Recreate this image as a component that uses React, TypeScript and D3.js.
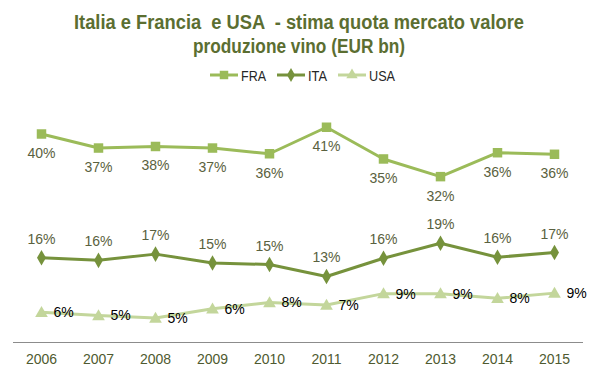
import React, { useEffect, useRef } from "react";
import * as d3 from "d3";

const years = ["2006", "2007", "2008", "2009", "2010", "2011", "2012", "2013", "2014", "2015"];
const fra = [40.0, 37.3, 37.6, 37.3, 36.2, 41.3, 35.2, 31.8, 36.4, 36.1];
const ita = [16.2, 15.7, 16.9, 15.2, 14.9, 12.6, 16.1, 19.0, 16.3, 17.2];
const usa = [5.7, 5.1, 4.6, 6.4, 7.6, 7.1, 9.3, 9.3, 8.4, 9.4];
const titleLines = ["Italia e Francia  e USA  - stima quota mercato valore", "produzione vino (EUR bn)"];
const titleWidths = [450, 212];
const legendWidths = [25, 19, 26];

const W = 598;
const H = 378;
const SANS = "'Liberation Sans', Arial, sans-serif";

const series = [
  { name: "FRA", values: fra, color: "#9bbb59", marker: "square", label: "below", labelColor: "#5a6140" },
  { name: "ITA", values: ita, color: "#76923c", marker: "diamond", label: "above", labelColor: "#5a6140" },
  { name: "USA", values: usa, color: "#c3d69b", marker: "triangle", label: "right", labelColor: "#000000" },
];

export default function App() {
  const ref = useRef<SVGSVGElement | null>(null);

  useEffect(() => {
    const svg = d3.select(ref.current);
    svg.selectAll("*").remove();

    const x = d3.scaleBand<string>().domain(years).range([13, 583]).padding(0);
    const cx = (y: string) => (x(y) as number) + x.bandwidth() / 2;
    const y = d3.scaleLinear().domain([0, 45]).range([342, 108]);

    // Title
    const title = svg.append("g");
    titleLines.forEach((t, i) => {
      title
        .append("text")
        .attr("x", W / 2)
        .attr("y", 29 + i * 24)
        .attr("text-anchor", "middle")
        .attr("font-family", SANS)
        .attr("font-weight", "bold")
        .attr("font-size", 20)
        .attr("fill", "#5b6e31")
        .attr("textLength", titleWidths[i])
        .attr("lengthAdjust", "spacingAndGlyphs")
        .style("white-space", "pre")
        .text(t);
    });

    const symbolFor = (m: string) =>
      m === "square" ? d3.symbolSquare : m === "diamond" ? d3.symbolDiamond : d3.symbolTriangle;
    const sizeFor = (m: string) => (m === "square" ? 90 : m === "diamond" ? 70 : 70);

    // Legend
    const legendX = [210, 277, 338];
    series.forEach((s, i) => {
      const g = svg.append("g").attr("transform", `translate(${legendX[i]},75)`);
      g.append("line").attr("x1", 0).attr("x2", 28).attr("y1", 0).attr("y2", 0)
        .attr("stroke", s.color).attr("stroke-width", 3);
      g.append("path")
        .attr("d", d3.symbol().type(symbolFor(s.marker)).size(sizeFor(s.marker) * 0.8)())
        .attr("transform", "translate(14,0)")
        .attr("fill", s.color);
      g.append("text").attr("x", 31).attr("y", 5.5)
        .attr("font-family", SANS).attr("font-size", 15).attr("fill", "#262626")
        .attr("textLength", legendWidths[i])
        .attr("lengthAdjust", "spacingAndGlyphs")
        .text(s.name);
    });

    // Axis line
    svg.append("line").attr("x1", 13).attr("x2", 583).attr("y1", 342.5).attr("y2", 342.5)
      .attr("stroke", "#8c8c8c").attr("stroke-width", 1);

    // Year labels
    svg.append("g").selectAll("text").data(years).join("text")
      .attr("x", (d) => cx(d))
      .attr("y", 364)
      .attr("text-anchor", "middle")
      .attr("font-family", SANS)
      .attr("font-size", 14)
      .attr("fill", "#4f5a30")
      .text((d) => d);

    const line = d3.line<number>().x((_, i) => cx(years[i])).y((v) => y(v));

    series.forEach((s) => {
      const g = svg.append("g");
      g.append("path").attr("d", line(s.values) as string)
        .attr("fill", "none").attr("stroke", s.color).attr("stroke-width", 3)
        .attr("stroke-linejoin", "round");
      g.selectAll("path.m").data(s.values).join("path")
        .attr("class", "m")
        .attr("d", d3.symbol().type(symbolFor(s.marker)).size(sizeFor(s.marker))())
        .attr("transform", (v, i) => `translate(${cx(years[i])},${y(v) + (s.marker === "triangle" ? 1 : 0)})`)
        .attr("fill", s.color);
      g.selectAll("text").data(s.values).join("text")
        .attr("x", (v, i) => cx(years[i]) + (s.label === "right" ? 12 : 0))
        .attr("y", (v) => s.label === "below" ? y(v) + 24 : s.label === "above" ? y(v) - 14 : y(v) + 5)
        .attr("text-anchor", s.label === "right" ? "start" : "middle")
        .attr("font-family", SANS)
        .attr("font-size", 14)
        .attr("fill", s.labelColor)
        .text((v) => `${Math.round(v)}%`);
    });
  }, []);

  return (
    <svg
      ref={ref}
      width={W}
      height={H}
      style={{ position: "absolute", left: 0, top: 0, display: "block", background: "#fff" }}
    />
  );
}
